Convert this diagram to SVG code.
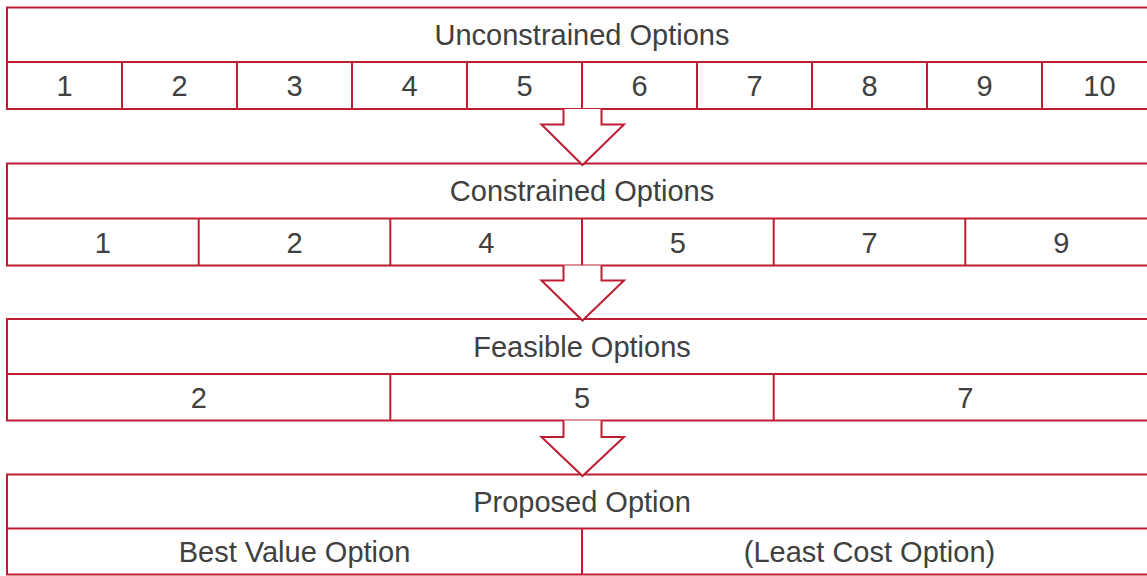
<svg xmlns="http://www.w3.org/2000/svg" width="1147" height="576" viewBox="0 0 1147 576">
  <style>
    .box { fill: #ffffff; stroke: #be1e32; stroke-width: 2; }
    .rule { stroke: #be1e32; stroke-width: 2; fill: none; }
    .arrow { fill: #ffffff; stroke: #be1e32; stroke-width: 2; stroke-linejoin: miter; }
    text { font-family: "Liberation Sans", Arial, Helvetica, sans-serif; font-size: 29px; fill: #404040; text-anchor: middle; }
  </style>
  <rect width="1147" height="576" fill="#ffffff"/>

  <!-- Stage 1: all options -->
  <g id="unconstrained">
    <rect class="box" x="7" y="7.5" width="1150" height="101.5"/>
    <line class="rule" x1="7" y1="62" x2="1157" y2="62"/>
    <path class="rule" d="M122,62V109M237,62V109M352,62V109M467,62V109M582,62V109M697,62V109M812,62V109M927,62V109M1042,62V109"/>
    <text x="582" y="44.5">Unconstrained Options</text>
    <text x="64.5" y="96">1</text>
    <text x="179.5" y="96">2</text>
    <text x="294.5" y="96">3</text>
    <text x="409.5" y="96">4</text>
    <text x="524.5" y="96">5</text>
    <text x="639.5" y="96">6</text>
    <text x="754.5" y="96">7</text>
    <text x="869.5" y="96">8</text>
    <text x="984.5" y="96">9</text>
    <text x="1099.5" y="96">10</text>
  </g>

  <!-- Stage 2: options left after constraints -->
  <g id="constrained">
    <rect class="box" x="7" y="163.5" width="1150" height="102"/>
    <line class="rule" x1="7" y1="218.5" x2="1157" y2="218.5"/>
    <path class="rule" d="M198.7,218.5V265.5M390.3,218.5V265.5M582,218.5V265.5M773.7,218.5V265.5M965.3,218.5V265.5"/>
    <text x="582" y="201">Constrained Options</text>
    <text x="102.8" y="252.5">1</text>
    <text x="294.5" y="252.5">2</text>
    <text x="486.2" y="252.5">4</text>
    <text x="677.8" y="252.5">5</text>
    <text x="869.5" y="252.5">7</text>
    <text x="1061.2" y="252.5">9</text>
  </g>

  <!-- Stage 3: feasible options -->
  <g id="feasible">
    <rect class="box" x="7" y="319" width="1150" height="101.5"/>
    <line class="rule" x1="7" y1="374" x2="1157" y2="374"/>
    <path class="rule" d="M390.3,374V420.5M773.7,374V420.5"/>
    <text x="582" y="356.5">Feasible Options</text>
    <text x="198.7" y="407.5">2</text>
    <text x="582" y="407.5">5</text>
    <text x="965.3" y="407.5">7</text>
  </g>

  <!-- Stage 4: proposed option -->
  <g id="proposed">
    <rect class="box" x="7" y="474.5" width="1150" height="100"/>
    <line class="rule" x1="7" y1="528.5" x2="1157" y2="528.5"/>
    <line class="rule" x1="582" y1="528.5" x2="582" y2="574.5"/>
    <text x="582" y="511.5">Proposed Option</text>
    <text x="294.5" y="562">Best Value Option</text>
    <text x="869.5" y="562">(Least Cost Option)</text>
  </g>

  <!-- Block arrows between stages -->
  <g id="connectors">
    <path class="arrow" d="M563.5,109V124.5H541.5L582.5,165L624,124.5H601.5V109"/>
    <path class="arrow" d="M563.5,265.5V280.5H541.5L582.5,320.5L624,280.5H601.5V265.5"/>
    <path class="arrow" d="M563.5,420.5V437H541.5L582.5,476L624,437H601.5V420.5"/>
  </g>
</svg>
